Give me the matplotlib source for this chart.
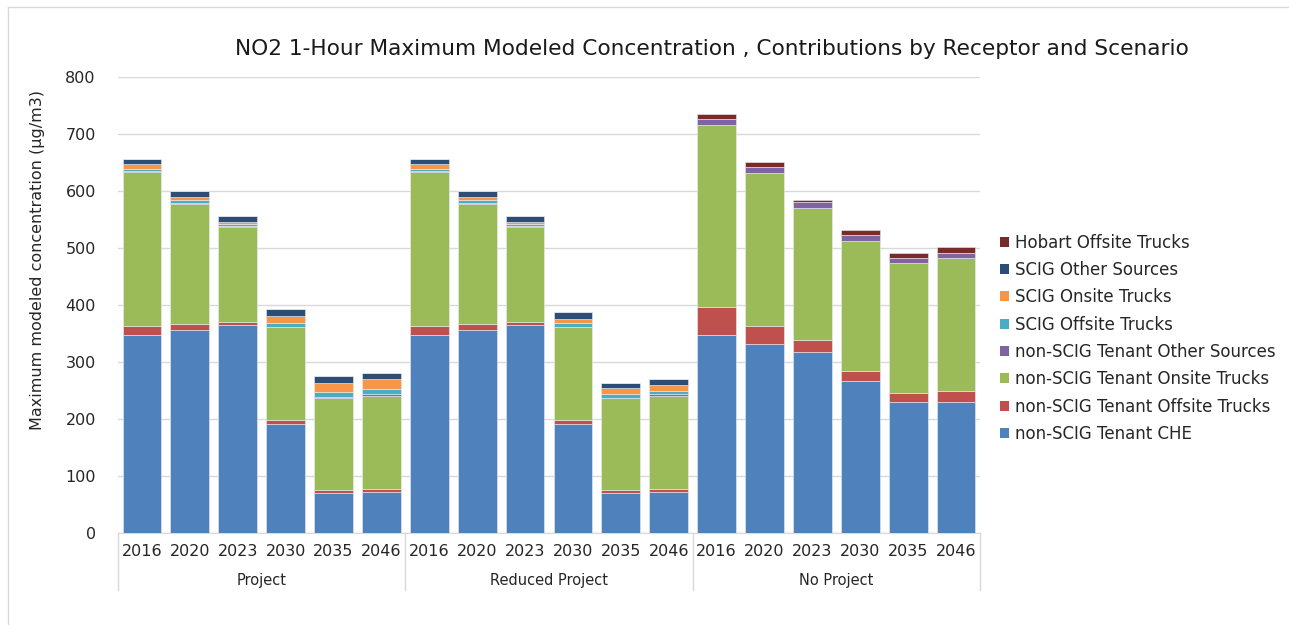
import matplotlib
matplotlib.use("Agg")
import matplotlib.pyplot as plt
from matplotlib.patches import Patch
from matplotlib.lines import Line2D
import numpy as np

scenarios = ["Project", "Reduced Project", "No Project"]
years = ["2016", "2020", "2023", "2030", "2035", "2046"]

series_names = [
    "non-SCIG Tenant CHE",
    "non-SCIG Tenant Offsite Trucks",
    "non-SCIG Tenant Onsite Trucks",
    "non-SCIG Tenant Other Sources",
    "SCIG Offsite Trucks",
    "SCIG Onsite Trucks",
    "SCIG Other Sources",
    "Hobart Offsite Trucks",
]
colors = ["#4F81BD", "#C0504D", "#9BBB59", "#8064A2",
          "#4BACC6", "#F79646", "#2C4D75", "#772C2A"]

# values per series, 18 bars (Project x6, Reduced Project x6, No Project x6)
tenant_che = [347, 357, 365, 192, 70, 72,
              347, 357, 365, 192, 70, 72,
              348, 331, 318, 266, 229, 230]
tenant_offsite = [16, 10, 6, 6, 5, 6,
                  16, 10, 6, 6, 5, 6,
                  48, 32, 21, 18, 17, 19]
tenant_onsite = [271, 211, 166, 163, 161, 163,
                 271, 211, 166, 163, 161, 163,
                 320, 269, 231, 228, 227, 233]
tenant_other = [1, 1, 1, 1, 2, 2,
                1, 1, 1, 1, 1, 2,
                10, 10, 11, 11, 10, 10]
scig_offsite = [4, 5, 4, 7, 9, 9,
                4, 5, 4, 6, 7, 6,
                0, 0, 0, 0, 0, 0]
scig_onsite = [8, 6, 4, 12, 17, 18,
               8, 6, 4, 8, 11, 11,
               0, 0, 0, 0, 0, 0]
scig_other = [9, 10, 11, 12, 11, 10,
              9, 10, 11, 11, 9, 10,
              0, 0, 0, 0, 0, 0]
hobart_offsite = [0, 0, 0, 0, 0, 0,
                  0, 0, 0, 0, 0, 0,
                  9, 8, 4, 8, 9, 10]

series = [tenant_che, tenant_offsite, tenant_onsite, tenant_other,
          scig_offsite, scig_onsite, scig_other, hobart_offsite]

W, H = 1289, 625
fig = plt.figure(figsize=(W / 100, H / 100), dpi=100)
plt.rcParams['font.family'] = ['DejaVu Sans']

# chart-area border (top and left visible)
fig.add_artist(Line2D([8 / W, 8 / W], [0, 1 - 7 / H], color="#D9D9D9", lw=1))
fig.add_artist(Line2D([8 / W, 1], [1 - 7 / H, 1 - 7 / H], color="#D9D9D9", lw=1))

left, right = 118 / W, 980 / W
bottom, top = 1 - 533 / H, 1 - 77 / H
ax = fig.add_axes([left, bottom, right - left, top - bottom])

n = len(scenarios) * len(years)
x = np.arange(n)
base = np.zeros(n)
for name, vals, c in zip(series_names, series, colors):
    v = np.array(vals, dtype=float)
    ax.bar(x, v, bottom=base, width=0.81, color=c, edgecolor="#E8EEF6",
           linewidth=0.4, zorder=3)
    base += v

ax.set_xlim(-0.5, n - 0.5)
ax.set_ylim(0, 800)
ax.set_yticks(np.arange(0, 801, 100))
ax.tick_params(axis="y", length=0, pad=16, labelsize=11.5, labelcolor="#262626")
ax.yaxis.grid(True, color="#D9D9D9", lw=1, zorder=0)
for s in ["top", "right", "left"]:
    ax.spines[s].set_visible(False)
ax.spines["bottom"].set_color("#D9D9D9")

ax.set_xticks(x)
ax.set_xticklabels(years * len(scenarios))
ax.tick_params(axis="x", length=0, pad=8, labelsize=11.5, labelcolor="#262626")

# category group separators and labels
sep_depth = (590 - 533) / (533 - 77)
for k in range(len(scenarios) + 1):
    xs = k * len(years) - 0.5
    ax.plot([xs, xs], [0, -sep_depth], transform=ax.get_xaxis_transform(),
            color="#D9D9D9", lw=1, clip_on=False)
for k, sc in enumerate(scenarios):
    xc = k * len(years) + (len(years) - 1) / 2
    ax.text(xc, -(581 - 533) / (533 - 77), sc, transform=ax.get_xaxis_transform(),
            ha="center", va="center", fontsize=10.5, color="#262626")

ax.set_ylabel("Maximum modeled concentration (µg/m3)", fontsize=11.5,
              color="#262626")
ax.yaxis.set_label_coords((45 - 118) / (980 - 118), (533 - 260) / (533 - 77))

fig.text(712 / W, 1 - 49 / H,
         "NO2 1-Hour Maximum Modeled Concentration , Contributions by Receptor and Scenario",
         ha="center", va="center", fontsize=15.6, color="#1a1a1a")

handles = [Patch(facecolor=c, label=nm) for nm, c in zip(series_names, colors)][::-1]
fig.legend(handles=handles, loc="upper left",
           bbox_to_anchor=(993 / W, 1 - 227 / H), frameon=False,
           fontsize=12, handlelength=0.55, handleheight=0.55, handletextpad=0.35,
           labelspacing=0.56, borderaxespad=0, labelcolor="#262626")

fig.savefig("out.png", dpi=100, facecolor="white")
